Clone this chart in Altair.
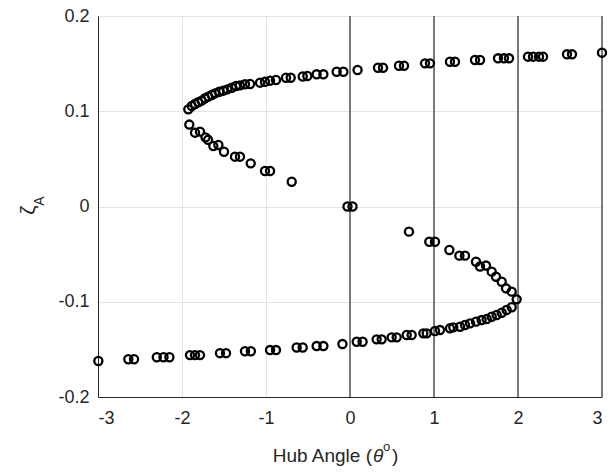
import altair as alt
import pandas as pd

# Upper branch
x_upper = [-1.925, -1.884, -1.845, -1.806, -1.766, -1.726, -1.687, -1.646, -1.607, -1.556,
           -1.508, -1.460, -1.408, -1.357, -1.310, -1.250, -1.190, -1.071, -1.012, -0.952,
           -0.881, -0.762, -0.706, -0.563, -0.508, -0.397, -0.317, -0.159, -0.079, 0.09,
           0.333, 0.393, 0.583, 0.643, 0.893, 0.952, 1.19, 1.25, 1.488, 1.548,
           1.762, 1.833, 1.893, 2.119, 2.179, 2.25, 2.298, 2.583, 2.643, 3.0]
y_upper = [0.1020, 0.1055, 0.1076, 0.1094, 0.1111, 0.1136, 0.1153, 0.1171, 0.1188, 0.1205,
           0.1216, 0.1230, 0.1247, 0.1265, 0.1272, 0.1283, 0.1286, 0.1300, 0.1310, 0.1321,
           0.1328, 0.1352, 0.1352, 0.1365, 0.1370, 0.1388, 0.1388, 0.1415, 0.1415, 0.1433,
           0.1457, 0.1457, 0.1478, 0.1478, 0.1503, 0.1503, 0.1520, 0.1520, 0.1538, 0.1538,
           0.1556, 0.1556, 0.1556, 0.1573, 0.1573, 0.1573, 0.1573, 0.1598, 0.1598, 0.1615]

# Middle (unstable) branch
x_middle = [-1.913, -1.845, -1.786, -1.720, -1.690, -1.627, -1.567, -1.500, -1.369, -1.310,
            -1.182, -1.012, -0.952, -0.694, -0.03, 0.03,
            0.702, 0.944, 1.012, 1.183, 1.302, 1.369, 1.500, 1.548, 1.619, 1.687,
            1.738, 1.806, 1.857, 1.925, 1.984]
y_middle = [0.0860, 0.0775, 0.0786, 0.0726, 0.0700, 0.0635, 0.0646, 0.0575, 0.0523, 0.0523,
            0.0453, 0.0373, 0.0373, 0.0260, 0.0, 0.0,
            -0.0264, -0.0370, -0.0370, -0.0457, -0.0516, -0.0516, -0.0580, -0.0630, -0.0620, -0.0684,
            -0.0737, -0.0790, -0.0859, -0.0894, -0.0975]

# Lower branch
x_lower = [-2.996, -2.639, -2.571, -2.300, -2.220, -2.150, -1.905, -1.845, -1.786, -1.548,
           -1.476, -1.250, -1.180, -0.952, -0.881, -0.635, -0.563, -0.397, -0.317, -0.090,
           0.080, 0.150, 0.317, 0.377, 0.496, 0.556, 0.675, 0.734, 0.873, 0.913,
           1.012, 1.071, 1.190, 1.230, 1.310, 1.369, 1.429, 1.500, 1.567, 1.627,
           1.687, 1.746, 1.806, 1.865, 1.925]
y_lower = [-0.1622, -0.1604, -0.1604, -0.1583, -0.1583, -0.1583, -0.1560, -0.1560, -0.1560, -0.1540,
           -0.1540, -0.1520, -0.1520, -0.1507, -0.1507, -0.1480, -0.1480, -0.1465, -0.1465, -0.1444,
           -0.1420, -0.1420, -0.1395, -0.1395, -0.1374, -0.1374, -0.1349, -0.1349, -0.1332, -0.1332,
           -0.1307, -0.1297, -0.1279, -0.1269, -0.1262, -0.1244, -0.1227, -0.1209, -0.1192, -0.1181,
           -0.1157, -0.1139, -0.1115, -0.1087, -0.1058]

vline_x = [0, 1, 2, 3]
x_ticks = [-3, -2, -1, 0, 1, 2, 3]
y_ticks = [-0.2, -0.1, 0, 0.1, 0.2]

df = pd.DataFrame({
    "x": x_upper + x_middle + x_lower,
    "y": y_upper + y_middle + y_lower,
})
vdf = pd.DataFrame({"x": vline_x})

FONT = "Liberation Sans"
TXT = "#262626"

xscale = alt.Scale(domain=[-3, 3], nice=False, zero=False)
yscale = alt.Scale(domain=[-0.2, 0.2], nice=False, zero=False)

xaxis = alt.Axis(values=x_ticks, title=None, grid=True, gridColor="#e3e3e3",
                 domainColor="#262626", tickColor="#262626", tickSize=0,
                 labelFont=FONT, labelFontSize=18, labelColor=TXT, labelPadding=12,
                 labelExpr="replace(format(datum.value, 'd'), '−', '-')")
yaxis = alt.Axis(values=y_ticks, title=None, grid=True, gridColor="#e3e3e3",
                 domainColor="#262626", tickColor="#262626", tickSize=0,
                 labelFont=FONT, labelFontSize=18, labelColor=TXT, labelPadding=9,
                 labelExpr="datum.value == 0 ? '0' : replace(format(datum.value, '.1f'), '−', '-')")

points = alt.Chart(df).mark_point(
    shape="circle", filled=False, color="black", size=66, strokeWidth=2.3, opacity=1
).encode(
    x=alt.X("x:Q", scale=xscale, axis=xaxis),
    y=alt.Y("y:Q", scale=yscale, axis=yaxis),
)

vlines = alt.Chart(vdf).mark_rule(color="#3a3a3a", strokeWidth=1.3).encode(
    x=alt.X("x:Q", scale=xscale),
)

def label(text, x, y, size=19, style="normal", angle=0, align="left"):
    return alt.Chart(pd.DataFrame({"t": [text]})).mark_text(
        font=FONT, fontSize=size, fontStyle=style, color=TXT, angle=angle,
        align=align, baseline="middle"
    ).encode(text="t:N", x=alt.value(x), y=alt.value(y))

xt = (label("Hub Angle (", 274, 440, align="right")
      + label("θ", 275, 440, style="italic")
      + label("o", 285, 431, size=13)
      + label(")", 294, 440))
yt = (label("ζ", -69, 194, size=21, angle=270, align="center")
      + label("A", -58, 185, size=14, angle=270, align="center"))

chart = alt.layer(vlines, points, xt, yt).properties(
    width=504, height=381,
    autosize=alt.AutoSizeParams(type="none"),
    padding={"left": 98, "top": 16, "right": 12, "bottom": 79},
    background="white",
).configure_view(stroke=None)

chart.save("out.html", embed_options={"renderer": "svg", "actions": False})
